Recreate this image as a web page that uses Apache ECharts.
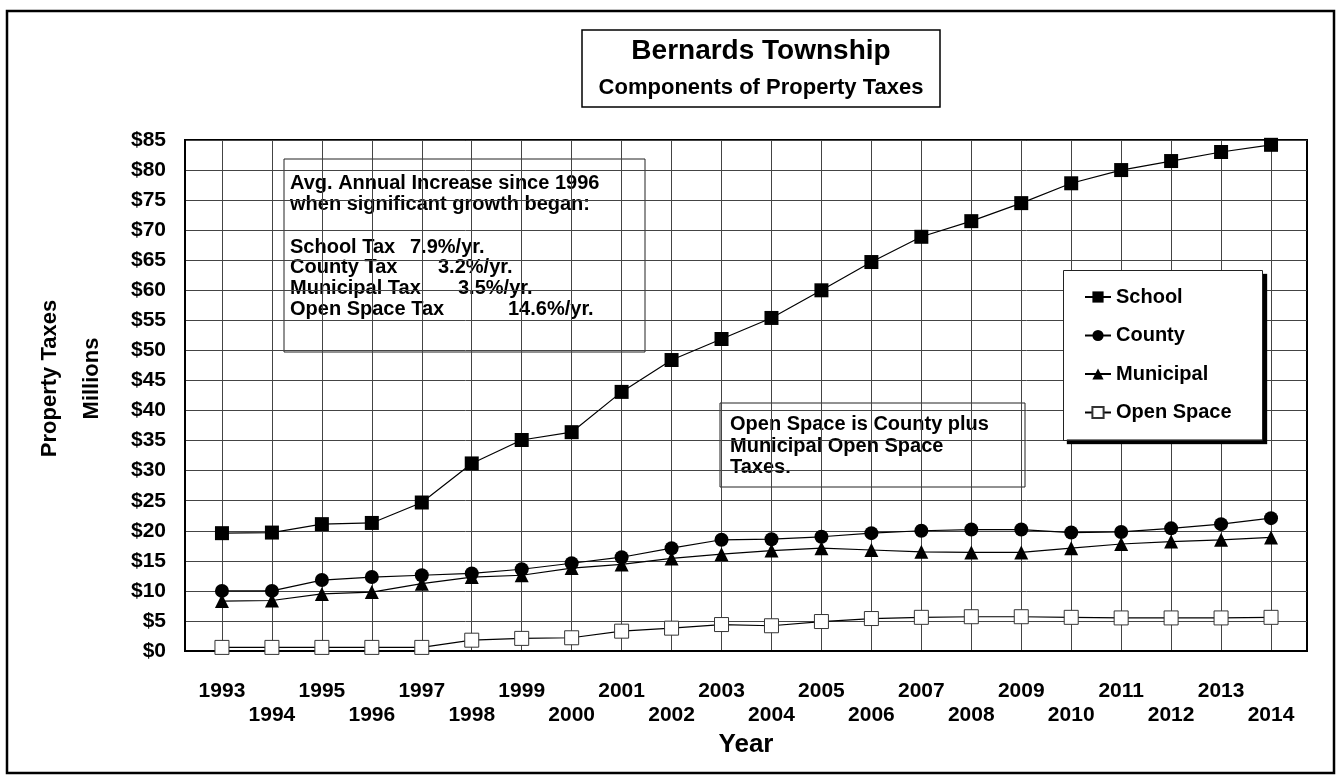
<!DOCTYPE html>
<html>
<head>
<meta charset="utf-8">
<script src="https://cdn.jsdelivr.net/npm/echarts@6/dist/echarts.min.js"></script>
<style>
  html, body { margin: 0; padding: 0; background: #fff; }
  #chart { width: 1337px; height: 776px; }
</style>
</head>
<body>
<div id="chart"></div>
<script>
// data (millions of dollars)
const years = [1993, 1994, 1995, 1996, 1997, 1998, 1999, 2000, 2001, 2002, 2003,
  2004, 2005, 2006, 2007, 2008, 2009, 2010, 2011, 2012, 2013, 2014];
const school = [19.6, 19.7, 21.1, 21.3, 24.7, 31.2, 35.1, 36.4, 43.1, 48.4, 51.9,
  55.4, 60.0, 64.7, 68.9, 71.5, 74.5, 77.8, 80.0, 81.5, 83.0, 84.2];
const county = [10.0, 10.0, 11.8, 12.3, 12.6, 12.9, 13.6, 14.6, 15.6, 17.1, 18.5,
  18.6, 19.0, 19.6, 20.0, 20.2, 20.2, 19.7, 19.8, 20.4, 21.1, 22.1];
const municipal = [8.3, 8.4, 9.5, 9.8, 11.2, 12.3, 12.6, 13.8, 14.4, 15.4, 16.1,
  16.7, 17.1, 16.8, 16.5, 16.4, 16.4, 17.1, 17.8, 18.2, 18.5, 18.9];
const openSpace = [0.6, 0.6, 0.6, 0.6, 0.6, 1.8, 2.1, 2.2, 3.3, 3.8, 4.4,
  4.2, 4.9, 5.4, 5.6, 5.7, 5.7, 5.6, 5.5, 5.5, 5.5, 5.6];
const seriesNames = ["School", "County", "Municipal", "Open Space"];

const rateLabels = ["School Tax", "County Tax", "Municipal Tax", "Open Space Tax"];
const rateValues = ["7.9%/yr.", "3.2%/yr.", "3.5%/yr.", "14.6%/yr."];

const FONT = "Liberation Sans, Arial, sans-serif";

function pairs(arr) {
  return arr.map((v, i) => [years[i], v]);
}

var myChart = echarts.init(document.getElementById("chart"));

// annotation box text
let rateX = [126, 154, 174, 224]; // where the % column starts in each row
let noteChildren = [
  { type: "rect", shape: { x: 0, y: 0, width: 361, height: 193 },
    style: { fill: "#fff", stroke: "#222", lineWidth: 1 } },
  { type: "text", x: 6, y: 14, style: { text: "Avg. Annual Increase since 1996\nwhen significant growth began:",
    font: "bold 20px " + FONT, fill: "#000", lineHeight: 21 } }
];
rateLabels.forEach((t, i) => {
  noteChildren.push({ type: "text", x: 6, y: 78 + i * 20.7,
    style: { text: t, font: "bold 20px " + FONT, fill: "#000" } });
  noteChildren.push({ type: "text", x: rateX[i], y: 78 + i * 20.7,
    style: { text: rateValues[i], font: "bold 20px " + FONT, fill: "#000" } });
});

let lineStyle = { color: "#000", width: 1.2 };

let option = {
  animation: false,
  backgroundColor: "#fff",
  grid: {
    left: 185,
    top: 140,
    right: 30,
    bottom: 125,
    show: true,
    borderColor: "#000",
    borderWidth: 2,
    backgroundColor: "transparent"
  },
  legend: {
    data: seriesNames,
    orient: "vertical",
    left: 1063,
    top: 270,
    padding: [17, 31, 17, 21],
    itemWidth: 26,
    itemHeight: 14,
    itemGap: 18.5,
    backgroundColor: "#fff",
    borderWidth: 0,
    shadowColor: "#000",
    shadowBlur: 1,
    shadowOffsetX: 4,
    shadowOffsetY: 4,
    textStyle: {
      color: "#000",
      fontFamily: FONT,
      fontWeight: "bold",
      fontSize: 20,
      lineHeight: 20
    }
  },
  xAxis: {
    type: "value",
    min: 1992.26,
    max: 2014.72,
    name: "Year",
    nameLocation: "middle",
    nameGap: 80,
    nameTextStyle: { color: "#000", fontFamily: FONT, fontWeight: "bold", fontSize: 26 },
    axisLine: { show: true, onZero: false, lineStyle: { color: "#000", width: 2 } },
    axisTick: { show: false, customValues: years },
    axisLabel: {
      customValues: years,
      margin: 28,
      color: "#000",
      fontFamily: FONT,
      fontWeight: "bold",
      fontSize: 21,
      lineHeight: 24,
      formatter: function(v) {
        return v % 2 === 0 ? "\n" + v : String(v);
      }
    },
    splitLine: { show: true, lineStyle: { color: "#444", width: 1 } }
  },
  yAxis: {
    type: "value",
    min: 0,
    max: 85,
    interval: 5,
    name: "Property Taxes\nMillions",
    nameLocation: "middle",
    nameRotate: 90,
    nameGap: 72,
    nameTextStyle: {
      color: "#000", fontFamily: FONT, fontWeight: "bold", fontSize: 22, lineHeight: 42,
      padding: [0, 0, 0, 34]
    },
    axisLine: { show: true, lineStyle: { color: "#000", width: 2 } },
    axisTick: { show: false },
    axisLabel: {
      margin: 19,
      color: "#000",
      fontFamily: FONT,
      fontWeight: "bold",
      fontSize: 21,
      formatter: function(v) {
        return "$" + v;
      }
    },
    splitLine: { show: true, lineStyle: { color: "#444", width: 1 } }
  },
  series: [
    {
      name: "School",
      type: "line",
      data: pairs(school),
      symbol: "rect",
      symbolSize: 14,
      itemStyle: { color: "#000" },
      lineStyle: lineStyle
    },
    {
      name: "County",
      type: "line",
      data: pairs(county),
      symbol: "circle",
      symbolSize: 14,
      itemStyle: { color: "#000" },
      lineStyle: lineStyle
    },
    {
      name: "Municipal",
      type: "line",
      data: pairs(municipal),
      symbol: "triangle",
      symbolSize: 14,
      itemStyle: { color: "#000" },
      lineStyle: lineStyle
    },
    {
      name: "Open Space",
      type: "line",
      data: pairs(openSpace),
      symbol: "rect",
      symbolSize: 14,
      itemStyle: { color: "#fff", borderColor: "#333", borderWidth: 1 },
      lineStyle: lineStyle
    }
  ],
  graphic: [
    // outer frame of the page
    { type: "rect", z: 0, shape: { x: 7, y: 11, width: 1327, height: 762 },
      style: { fill: "none", stroke: "#000", lineWidth: 2.5 } },
    // thin border round the legend (its shadow comes from the legend itself)
    { type: "rect", z: 100, silent: true, shape: { x: 1063.5, y: 270.5, width: 199, height: 170 },
      style: { fill: "none", stroke: "#222", lineWidth: 1 } },
    // title box
    { type: "group", x: 582, y: 30, z: 10, children: [
      { type: "rect", shape: { x: 0, y: 0, width: 358, height: 77 },
        style: { fill: "#fff", stroke: "#000", lineWidth: 1.5 } },
      { type: "text", x: 179, y: 21, style: { text: "Bernards Township", font: "bold 28px " + FONT,
        fill: "#000", align: "center", verticalAlign: "middle" } },
      { type: "text", x: 179, y: 58, style: { text: "Components of Property Taxes", font: "bold 22px " + FONT,
        fill: "#000", align: "center", verticalAlign: "middle" } }
    ] },
    // growth note
    { type: "group", x: 284, y: 159, z: 10, children: noteChildren },
    // open space note
    { type: "group", x: 720, y: 403, z: 10, children: [
      { type: "rect", shape: { x: 0, y: 0, width: 305, height: 84 },
        style: { fill: "#fff", stroke: "#222", lineWidth: 1 } },
      { type: "text", x: 10, y: 11, style: { text: "Open Space is County plus\nMunicipal Open Space\nTaxes.",
        font: "bold 20px " + FONT, fill: "#000", lineHeight: 21.5 } }
    ] }
  ]
};
myChart.setOption(option);
</script>
</body>
</html>
